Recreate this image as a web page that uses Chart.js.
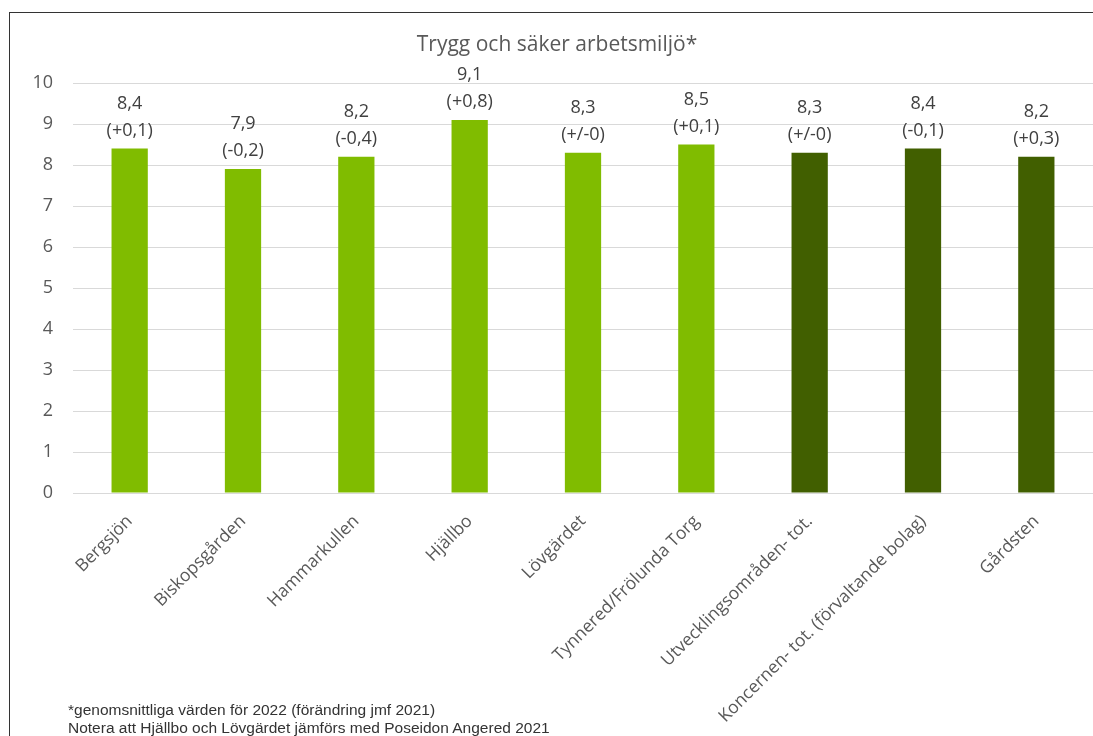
<!DOCTYPE html>
<html lang="sv">
<head>
  <meta charset="UTF-8" />
  <title>Trygg och säker arbetsmiljö</title>
  <script src="https://cdn.jsdelivr.net/npm/chart.js"></script>
  <style>
    html, body { margin: 0; padding: 0; background: #fff; overflow: hidden; }
    #wrap { position: relative; width: 1093px; height: 736px; }
    #chart { position: absolute; left: 0; top: 0; }
    #frame { position: absolute; left: 9px; top: 12px; width: 1100px; height: 740px; border: 1px solid #333; box-sizing: border-box; }
    #note { position: absolute; left: 68px; top: 701px; font: 15.5px "Liberation Sans", Arial, sans-serif; line-height: 18px; color: #333; white-space: nowrap; }
  </style>
</head>
<body>
  <div id="wrap">
    <div id="frame"></div>
    <canvas id="chart" width="1093" height="736"></canvas>
    <div id="note">*genomsnittliga värden för 2022 (förändring jmf 2021)<br>Notera att Hjällbo och Lövgärdet jämförs med Poseidon Angered 2021</div>
  </div>

  <script>
    const title = 'Trygg och säker arbetsmiljö*';
    const categories = ['Bergsjön', 'Biskopsgården', 'Hammarkullen', 'Hjällbo', 'Lövgärdet',
      'Tynnered/Frölunda Torg', 'Utvecklingsområden- tot.', 'Koncernen- tot. (förvaltande bolag)', 'Gårdsten'];
    const values = [8.4, 7.9, 8.2, 9.1, 8.3, 8.5, 8.3, 8.4, 8.2];
    const changes = ['(+0,1)', '(-0,2)', '(-0,4)', '(+0,8)', '(+/-0)', '(+0,1)', '(+/-0)', '(-0,1)', '(+0,3)'];
    const yTicks = [0, 1, 2, 3, 4, 5, 6, 7, 8, 9, 10];

    const light = '#80bc00';
    const dark = '#415f00';
    const barColors = categories.map((c, i) => i < 6 ? light : dark);

    // labels above bars: value and change vs 2021
    const barLabels = {
      id: 'barLabels',
      afterDatasetsDraw(chart) {
        const ctx = chart.ctx;
        const meta = chart.getDatasetMeta(0);
        ctx.save();
        ctx.font = '18px "Open Sans"';
        ctx.fillStyle = '#404040';
        ctx.textAlign = 'center';
        ctx.textBaseline = 'middle';
        meta.data.forEach((bar, i) => {
          ctx.fillText(values[i].toFixed(1).replace('.', ','), bar.x, bar.y - 45);
          ctx.fillText(changes[i], bar.x, bar.y - 18);
        });
        ctx.restore();
      }
    };

    const chartTitle = {
      id: 'chartTitle',
      afterDraw(chart) {
        const ctx = chart.ctx;
        ctx.save();
        ctx.font = '21px "Open Sans"';
        ctx.fillStyle = '#595959';
        ctx.textAlign = 'center';
        ctx.textBaseline = 'middle';
        ctx.fillText(title, 557, 45);
        ctx.restore();
      }
    };

    new Chart(document.getElementById('chart'), {
      type: 'bar',
      data: {
        labels: categories,
        datasets: [{
          data: values,
          backgroundColor: barColors,
          barPercentage: 0.32,
          categoryPercentage: 1
        }]
      },
      options: {
        responsive: false,
        animation: false,
        layout: { padding: { top: 83, left: 0, right: 0, bottom: 0 } },
        plugins: { legend: { display: false }, tooltip: { enabled: false }, title: { display: false } },
        scales: {
          x: {
            grid: { display: false },
            border: { display: false },
            ticks: {
              autoSkip: false, maxRotation: 45, minRotation: 45, padding: 10,
              color: '#595959', font: { family: 'Open Sans', size: 17.5 }
            },
            afterFit: s => { s.height = 243; }
          },
          y: {
            min: 0, max: 10,
            afterBuildTicks: s => { s.ticks = yTicks.map(v => ({ value: v })); },
            grid: { color: '#d9d9d9', drawTicks: false },
            border: { display: false },
            ticks: { padding: 20, color: '#595959', font: { family: 'Open Sans', size: 18 } },
            afterFit: s => { s.width = 73; }
          }
        }
      },
      plugins: [barLabels, chartTitle]
    });
  </script>
</body>
</html>
